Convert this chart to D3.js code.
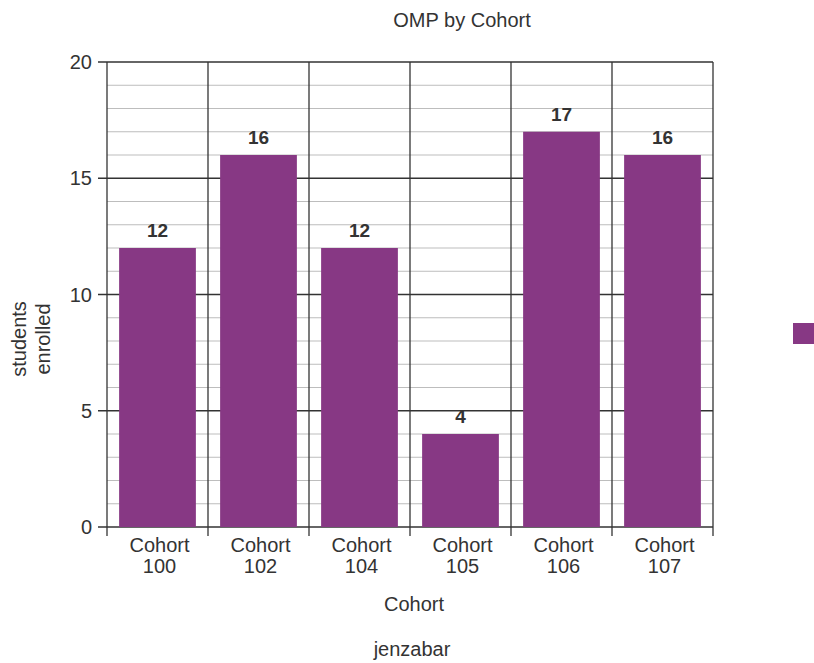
<!DOCTYPE html>
<html>
<head>
<meta charset="utf-8">
<script src="https://cdn.jsdelivr.net/npm/d3@7"></script>
<style>
  body { margin: 0; background: #fff; }
  text { font-family: "Liberation Sans", Arial, sans-serif; fill: #333; }
</style>
</head>
<body>
<div id="chart"></div>
<script>
// DATA
let cohorts = ['Cohort 100', 'Cohort 102', 'Cohort 104', 'Cohort 105', 'Cohort 106', 'Cohort 107']
let enrolled = [12, 16, 12, 4, 17, 16]
let yTicks = [0, 5, 10, 15, 20]

// CHART SETUP
let width = 814, height = 663
let margin = { top: 62, right: 101, bottom: 136, left: 107 }
let innerW = width - margin.left - margin.right
let innerH = height - margin.top - margin.bottom
let barColor = '#873884'

let svg = d3.select('#chart')
  .append('svg')
  .attr('width', width)
  .attr('height', height)

let g = svg.append('g')
  .attr('transform', 'translate(' + margin.left + ',' + margin.top + ')')

let x = d3.scaleBand().domain(cohorts).range([0, innerW]).paddingInner(0.24).paddingOuter(0.12)
let bandStep = x.step()
let y = d3.scaleLinear().domain([0, 20]).range([innerH, 0])

// minor gridlines every 1
g.selectAll('.minor')
  .data(d3.range(1, 20).filter(v => v % 5 !== 0))
  .enter().append('line')
  .attr('x1', 0).attr('x2', innerW)
  .attr('y1', d => y(d)).attr('y2', d => y(d))
  .style('stroke', '#bdbdbd')
  .style('stroke-width', 1)

// major gridlines + ticks on the left
g.selectAll('.major')
  .data(yTicks)
  .enter().append('line')
  .attr('x1', -9).attr('x2', innerW)
  .attr('y1', d => y(d)).attr('y2', d => y(d))
  .style('stroke', '#333')
  .style('stroke-width', 1.3)

// vertical lines at category boundaries
let bounds = d3.range(cohorts.length + 1).map(i => i * bandStep)
g.selectAll('.vline')
  .data(bounds)
  .enter().append('line')
  .attr('x1', d => d).attr('x2', d => d)
  .attr('y1', 0).attr('y2', innerH + 9)
  .style('stroke', '#333')
  .style('stroke-width', 1.3)

// bars
g.selectAll('.bar')
  .data(enrolled)
  .enter().append('rect')
  .attr('x', (d, i) => x(cohorts[i]))
  .attr('width', x.bandwidth())
  .attr('y', d => y(d))
  .attr('height', d => innerH - y(d))
  .style('fill', barColor)

// value labels
g.selectAll('.val')
  .data(enrolled)
  .enter().append('text')
  .attr('x', (d, i) => x(cohorts[i]) + x.bandwidth() / 2)
  .attr('y', d => y(d) - 11)
  .style('text-anchor', 'middle')
  .style('font-size', '19px')
  .style('font-weight', 700)
  .text(d => d)

// y tick labels
g.selectAll('.ylab')
  .data(yTicks)
  .enter().append('text')
  .attr('x', -15)
  .attr('y', d => y(d))
  .attr('dy', '0.35em')
  .style('text-anchor', 'end')
  .style('font-size', '20px')
  .text(d => d)

// x tick labels (two lines)
let xl = g.selectAll('.xlab')
  .data(cohorts)
  .enter().append('text')
  .attr('x', d => x(d) + x.bandwidth() / 2 + 2)
  .attr('y', innerH + 25)
  .style('text-anchor', 'middle')
  .style('font-size', '20px')
xl.append('tspan')
  .attr('x', d => x(d) + x.bandwidth() / 2 + 2)
  .text(d => d.split(' ')[0])
xl.append('tspan')
  .attr('x', d => x(d) + x.bandwidth() / 2 + 2)
  .attr('dy', 21)
  .text(d => d.split(' ')[1])

// titles
svg.append('text')
  .attr('x', 462)
  .attr('y', 27)
  .style('text-anchor', 'middle')
  .style('font-size', '20px')
  .text('OMP by Cohort')

svg.append('text')
  .attr('x', margin.left + innerW / 2 + 4)
  .attr('y', 611)
  .style('text-anchor', 'middle')
  .style('font-size', '20px')
  .text('Cohort')

svg.append('text')
  .attr('x', margin.left + innerW / 2 + 2)
  .attr('y', 656)
  .style('text-anchor', 'middle')
  .style('font-size', '20px')
  .text('jenzabar')

let yt = svg.append('text')
  .attr('transform', 'translate(26,339) rotate(-90)')
  .style('text-anchor', 'middle')
  .style('font-size', '20px')
yt.append('tspan').attr('x', 0).text('students')
yt.append('tspan').attr('x', 0).attr('dy', 24).text('enrolled')

// legend swatch (partly off the right edge)
svg.append('rect')
  .attr('x', 793)
  .attr('y', 323)
  .attr('width', 22)
  .attr('height', 21)
  .style('fill', barColor)
</script>
</body>
</html>
